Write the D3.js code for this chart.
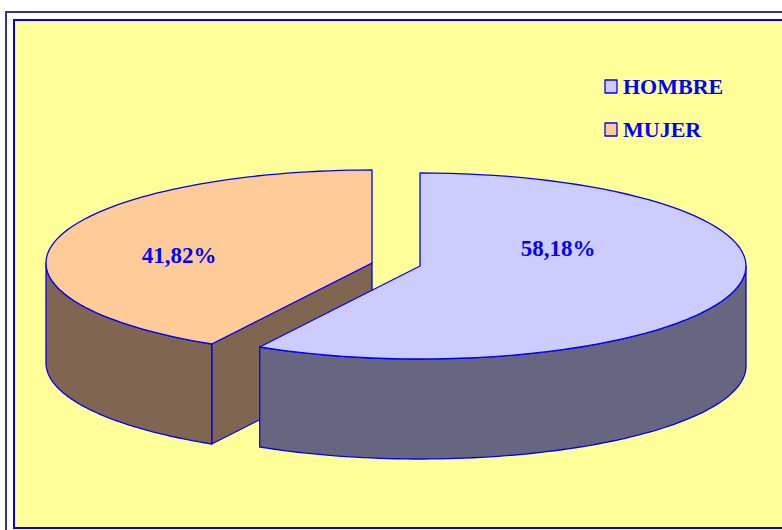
<!DOCTYPE html>
<html lang="es">
<head>
	<meta charset="utf-8">
	<title>Hombre / Mujer</title>
	<script src="https://cdn.jsdelivr.net/npm/d3@7"></script>
	<style type="text/css">
		html, body { margin: 0; padding: 0; background: white; overflow: hidden; }
		svg { display: block; }
		text {
			font-family: "Liberation Serif", "Times New Roman", serif;
			font-weight: bold;
			fill: #0000ff;
		}
		.edge { stroke: #0000ff; stroke-width: 1.3px; stroke-linejoin: round; }
	</style>
</head>
<body>
<script>
	var categories = ["HOMBRE", "MUJER"];
	var shares = [58.18, 41.82];
	var shareLabels = ["58,18%", "41,82%"];
	var topColors = ["#ccccff", "#ffcc99"];
	var wallColors = ["#666680", "#806650"];

	var width = 782, height = 530;
	var rx = 326, ry = 93, depth = 100;
	// each slice is pulled out of the pie, so it has its own centre
	var centers = [[420, 266], [372, 263]];
	var labelPos = [[558, 256], [179, 263]];
	var legendY = [87, 130];

	var svg = d3.select("body").append("svg")
		.attr("width", width)
		.attr("height", height);

	// frames
	svg.append("path")
		.attr("d", "M6," + height + "V12H" + width)
		.attr("fill", "none")
		.attr("stroke", "#333399")
		.attr("stroke-width", 2);
	svg.append("path")
		.attr("d", "M" + width + ",20H14V528H" + width)
		.attr("fill", "#ffff99")
		.attr("stroke", "#0000ff")
		.attr("stroke-width", 2);

	var slices = d3.pie().sort(null)(shares);

	function point(i, angle, drop) {
		return [centers[i][0] + rx * Math.sin(angle),
		        centers[i][1] - ry * Math.cos(angle) + drop];
	}
	function arcPoints(i, a0, a1, drop) {
		var steps = 80;
		return d3.range(steps + 1).map(function(k) {
			return point(i, a0 + (a1 - a0) * k / steps, drop);
		});
	}
	var line = d3.line();

	function drawSlice(i) {
		var s = slices[i];
		var c = centers[i];
		// front part of the rim only: angles between 90 and 270 degrees
		var a0 = Math.max(s.startAngle, Math.PI / 2);
		var a1 = Math.min(s.endAngle, 3 * Math.PI / 2);

		// flat cut walls, the one facing the viewer
		[s.startAngle, s.endAngle].forEach(function(a) {
			var p = point(i, a, 0);
			var facing = Math.sin(a) < 0 && i === 1 && a === s.startAngle;
			if (!facing) return;
			svg.append("path").attr("class", "edge")
				.attr("fill", wallColors[i])
				.attr("d", line([p, c, [c[0], c[1] + depth], [p[0], p[1] + depth]]) + "Z");
		});

		// curved rim
		var upper = arcPoints(i, a0, a1, 0);
		var lower = arcPoints(i, a1, a0, depth);
		svg.append("path").attr("class", "edge")
			.attr("fill", wallColors[i])
			.attr("d", line(upper.concat(lower)) + "Z");

		// top face
		var rim = arcPoints(i, s.startAngle, s.endAngle, 0);
		svg.append("path").attr("class", "edge")
			.attr("fill", topColors[i])
			.attr("d", line([c].concat(rim)) + "Z");
	}
	// orange first, the blue slice sits in front of it
	drawSlice(1);
	drawSlice(0);

	shareLabels.forEach(function(t, i) {
		svg.append("text")
			.attr("x", labelPos[i][0])
			.attr("y", labelPos[i][1])
			.attr("text-anchor", "middle")
			.attr("font-size", 23)
			.text(t);
	});

	// legend
	categories.forEach(function(name, i) {
		svg.append("rect").attr("class", "edge")
			.attr("x", 605)
			.attr("y", legendY[i] - 7)
			.attr("width", 12)
			.attr("height", 13)
			.attr("fill", topColors[i]);
		svg.append("text")
			.attr("x", 623)
			.attr("y", legendY[i] + 7)
			.attr("font-size", 22)
			.text(name);
	});
</script>
</body>
</html>
